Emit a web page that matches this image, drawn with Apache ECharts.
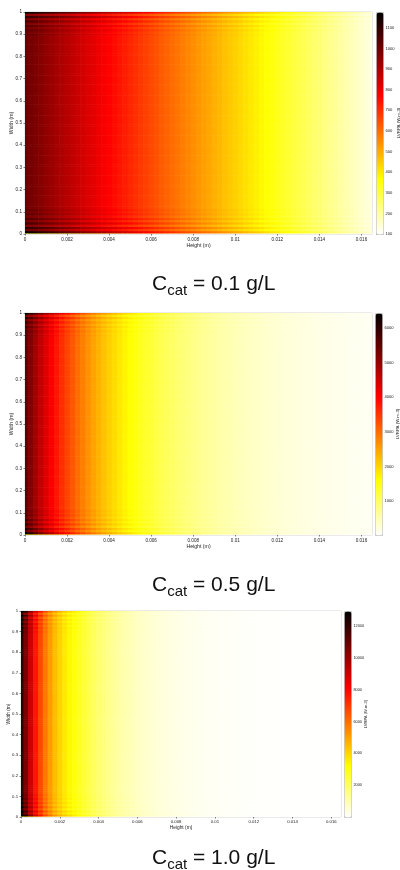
<!DOCTYPE html>
<html>
<head>
<meta charset="utf-8">
<script src="https://cdn.jsdelivr.net/npm/echarts@6/dist/echarts.min.js"></script>
<style>
  html, body { margin: 0; padding: 0; background: #fff; }
  #chart { width: 400px; height: 870px; }
</style>
</head>
<body>
<div id="chart"></div>
<script>
// grid nodes (m)
const heightNodes = [0,0.00025,0.0005,0.00075,0.001,0.00125,0.0015,0.00175,0.002,0.00225,0.0025,0.00275,0.003,0.00325,0.0035,0.00375,0.004,0.00425,0.0045,0.00475,0.005,0.00525,0.0055,0.00575,0.006,0.00625,0.0065,0.00675,0.007,0.00725,0.0075,0.00775,0.008,0.00825,0.0085,0.00875,0.009,0.00925,0.0095,0.00975,0.01,0.01025,0.0105,0.01075,0.011,0.01125,0.0115,0.01175,0.012,0.01225,0.0125,0.01275,0.013,0.01325,0.0135,0.01375,0.014,0.01425,0.0145,0.01475,0.015,0.01525,0.0155,0.01575,0.016,0.01625,0.0165]
const widthNodes = [0,0.01,0.02,0.03,0.04,0.05,0.06,0.07,0.08,0.09,0.1,0.11,0.12,0.13,0.14,0.15,0.16,0.17,0.18,0.19,0.2,0.21,0.22,0.23,0.24,0.25,0.26,0.27,0.28,0.29,0.3,0.31,0.32,0.33,0.34,0.35,0.36,0.37,0.38,0.39,0.4,0.41,0.42,0.43,0.44,0.45,0.46,0.47,0.48,0.49,0.5,0.51,0.52,0.53,0.54,0.55,0.56,0.57,0.58,0.59,0.6,0.61,0.62,0.63,0.64,0.65,0.66,0.67,0.68,0.69,0.7,0.71,0.72,0.73,0.74,0.75,0.76,0.77,0.78,0.79,0.8,0.81,0.82,0.83,0.84,0.85,0.86,0.87,0.88,0.89,0.9,0.91,0.92,0.93,0.94,0.95,0.96,0.97,0.98,0.99,1]

// LVRPA along the height, away from the side walls (W.m-3)
const lvrpa01 = [1010,994,979,964,948,933,918,903,888,873,858,843,829,814,799,785,770,756,742,727,713,699,685,671,657,643,629,615,602,588,575,561,548,534,521,508,495,481,468,455,443,430,417,404,392,379,366,354,342,329,317,305,293,281,269,257,245,233,221,210,198,187,175,164,152,141,130]
const lvrpa05 = [5530,5200,4890,4600,4330,4070,3830,3600,3390,3190,3000,2820,2650,2490,2340,2200,2070,1950,1830,1720,1620,1520,1430,1350,1270,1190,1120,1050,990,930,875,825,775,730,685,645,605,570,535,505,475,445,420,395,370,350,328,308,290,272,256,240,226,212,200,188,176,166,156,146,138,130,122,114,108,101,95]
const lvrpa10 = [12100,10600,9000,7700,6700,5800,5100,4500,4050,3650,3350,3080,2800,2530,2280,2050,1840,1650,1480,1330,1190,1070,960,860,770,690,620,560,500,450,405,365,328,295,265,238,214,192,172,155,139,125,112,100,90,81,72,65,58,52,47,42,38,34,30,27,24,22,20,18,16,14,13,12,11,10,9]

// relative change near the walls (bottom rows from width 0, top rows ending at width 1)
const wallBottom = [0.3,1.16,1.0,1.1,0.97,1.07,0.98,1.05,0.99,1.03,1.0,1.02]
const wallTop = [1.0,1.02,1.0,1.03,0.99,1.04,0.98,1.06,0.97,1.09,0.96,1.16]

// colour bar ranges and ticks
const cbRange01 = [100, 1177]
const cbRange05 = [20, 6425]
const cbRange10 = [0, 12950]
const cbTicks01 = [100,200,300,400,500,600,700,800,900,1000,1100]
const cbTicks05 = [1000,2000,3000,4000,5000,6000]
const cbTicks10 = [2000,4000,6000,8000,10000,12000]
const heightTicks = [0,0.002,0.004,0.006,0.008,0.01,0.012,0.014,0.016]
const widthTicks = [0,0.1,0.2,0.3,0.4,0.5,0.6,0.7,0.8,0.9,1]
const concentrations = ['0.1', '0.5', '1.0']

const hot = ['#ffffff','#ffff80','#ffff00','#ffaa00','#ff5500','#ff0000','#aa0000','#550000','#000000']
const FONT = 'Liberation Sans'

function wallFactor(j) {
  const n = widthNodes.length
  if (j < wallBottom.length) return wallBottom[j]
  if (j >= n - wallTop.length) return wallTop[j - (n - wallTop.length)]
  return 1
}

function cells(profile) {
  const out = []
  for (let i = 0; i < heightNodes.length; i++) {
    for (let j = 0; j < widthNodes.length; j++) {
      out.push([i, j, Math.round(profile[i] * wallFactor(j))])
    }
  }
  return out
}

function edge(nodes, k, side) {
  if (side < 0) return k === 0 ? nodes[0] : (nodes[k - 1] + nodes[k]) / 2
  return k === nodes.length - 1 ? nodes[k] : (nodes[k] + nodes[k + 1]) / 2
}

function renderCell(params, api) {
  const i = api.value(0)
  const j = api.value(1)
  const a = api.coord([edge(heightNodes, i, -1), edge(widthNodes, j, 1)])
  const b = api.coord([edge(heightNodes, i, 1), edge(widthNodes, j, -1)])
  return {
    type: 'rect',
    shape: { x: a[0], y: a[1], width: b[0] - a[0] + 0.6, height: b[1] - a[1] + 0.6 },
    style: { fill: api.visual('color') }
  }
}

const panels = [
  { data: lvrpa01, range: cbRange01, ticks: cbTicks01,
    plot: { left: 25, top: 12, width: 347, height: 222 }, bar: { left: 376, top: 12, width: 7, height: 222 }, capTop: 271, scale: 1 },
  { data: lvrpa05, range: cbRange05, ticks: cbTicks05,
    plot: { left: 25, top: 313, width: 347, height: 222 }, bar: { left: 375, top: 313, width: 7, height: 222 }, capTop: 572, scale: 1 },
  { data: lvrpa10, range: cbRange10, ticks: cbTicks10,
    plot: { left: 21, top: 611, width: 320, height: 206 }, bar: { left: 344, top: 611, width: 7, height: 206 }, capTop: 845, scale: 0.93 }
]

const option = {
  backgroundColor: '#fff',
  animation: false,
  textStyle: { fontFamily: FONT },
  grid: [], xAxis: [], yAxis: [], series: [], visualMap: [], title: []
}

panels.forEach((p, k) => {
  const fs = 4.6 * p.scale
  const tick = { show: true, length: 1.5, lineStyle: { color: '#333', width: 0.6 } }
  option.grid.push({ ...p.plot, outerBoundsMode: 'none', containLabel: false, show: true, borderColor: '#d6d6d6', borderWidth: 1, backgroundColor: 'transparent' })
  option.grid.push({ ...p.bar, outerBoundsMode: 'none', containLabel: false, show: false })
  option.xAxis.push({
    gridIndex: 2 * k, type: 'value', min: 0, max: 0.0165,
    name: 'Height (m)', nameLocation: 'middle', nameGap: 9 * p.scale, nameMoveOverlap: false,
    nameTextStyle: { fontSize: 5.2 * p.scale, color: '#222' },
    axisLine: { show: false },
    axisTick: { ...tick, customValues: heightTicks },
    axisLabel: { fontSize: fs, color: '#222', margin: 3, customValues: heightTicks },
    splitLine: { show: false }
  })
  option.yAxis.push({
    gridIndex: 2 * k, type: 'value', min: 0, max: 1,
    name: 'Width (m)', nameLocation: 'middle', nameGap: 11 * p.scale, nameMoveOverlap: false, nameRotate: 90,
    nameTextStyle: { fontSize: 5.2 * p.scale, color: '#222' },
    axisLine: { show: false },
    axisTick: { ...tick, customValues: widthTicks },
    axisLabel: { fontSize: fs, color: '#222', margin: 3, customValues: widthTicks },
    splitLine: { show: false }
  })
  option.xAxis.push({ gridIndex: 2 * k + 1, type: 'value', min: 0, max: 1, show: false })
  option.yAxis.push({
    gridIndex: 2 * k + 1, type: 'value', position: 'right', min: p.range[0], max: p.range[1],
    name: 'LVRPA (W.m-3)', nameLocation: 'middle', nameGap: 14 * p.scale, nameMoveOverlap: false, nameRotate: 90,
    nameTextStyle: { fontSize: 4.4 * p.scale, color: '#222' },
    axisLine: { show: false },
    axisTick: { ...tick, customValues: p.ticks },
    axisLabel: { fontSize: 4.1 * p.scale, color: '#222', margin: 2.5, customValues: p.ticks, formatter: (v) => String(v) },
    splitLine: { show: false }
  })
  option.series.push({
    type: 'custom', xAxisIndex: 2 * k, yAxisIndex: 2 * k,
    renderItem: renderCell, clip: true, silent: true, progressive: 0,
    encode: { x: 0, y: 1 },
    data: cells(p.data)
  })
  option.visualMap.push({
    type: 'continuous', seriesIndex: k, dimension: 2,
    min: p.range[0], max: p.range[1],
    calculable: false, realtime: false, hoverLink: false,
    left: p.bar.left, top: p.bar.top, itemWidth: p.bar.width, itemHeight: p.bar.height,
    padding: 0, borderColor: '#c8c8c8', borderWidth: 1,
    text: null, showLabel: false,
    inRange: { color: hot }
  })
  option.title.push({
    text: '{a|C}{b|cat}{a| = ' + concentrations[k] + ' g/L}',
    left: 152, top: p.capTop, padding: 0,
    textStyle: {
      fontWeight: 'normal',
      rich: {
        a: { fontSize: 21, color: '#111', fontFamily: FONT, fontWeight: 'normal', lineHeight: 26 },
        b: { fontSize: 15, color: '#111', fontFamily: FONT, fontWeight: 'normal', lineHeight: 15, padding: [13, 0, 0, 0] }
      }
    }
  })
})

const chart = echarts.init(document.getElementById('chart'))
chart.setOption(option)
window.addEventListener('resize', () => chart.resize())
</script>
</body>
</html>
